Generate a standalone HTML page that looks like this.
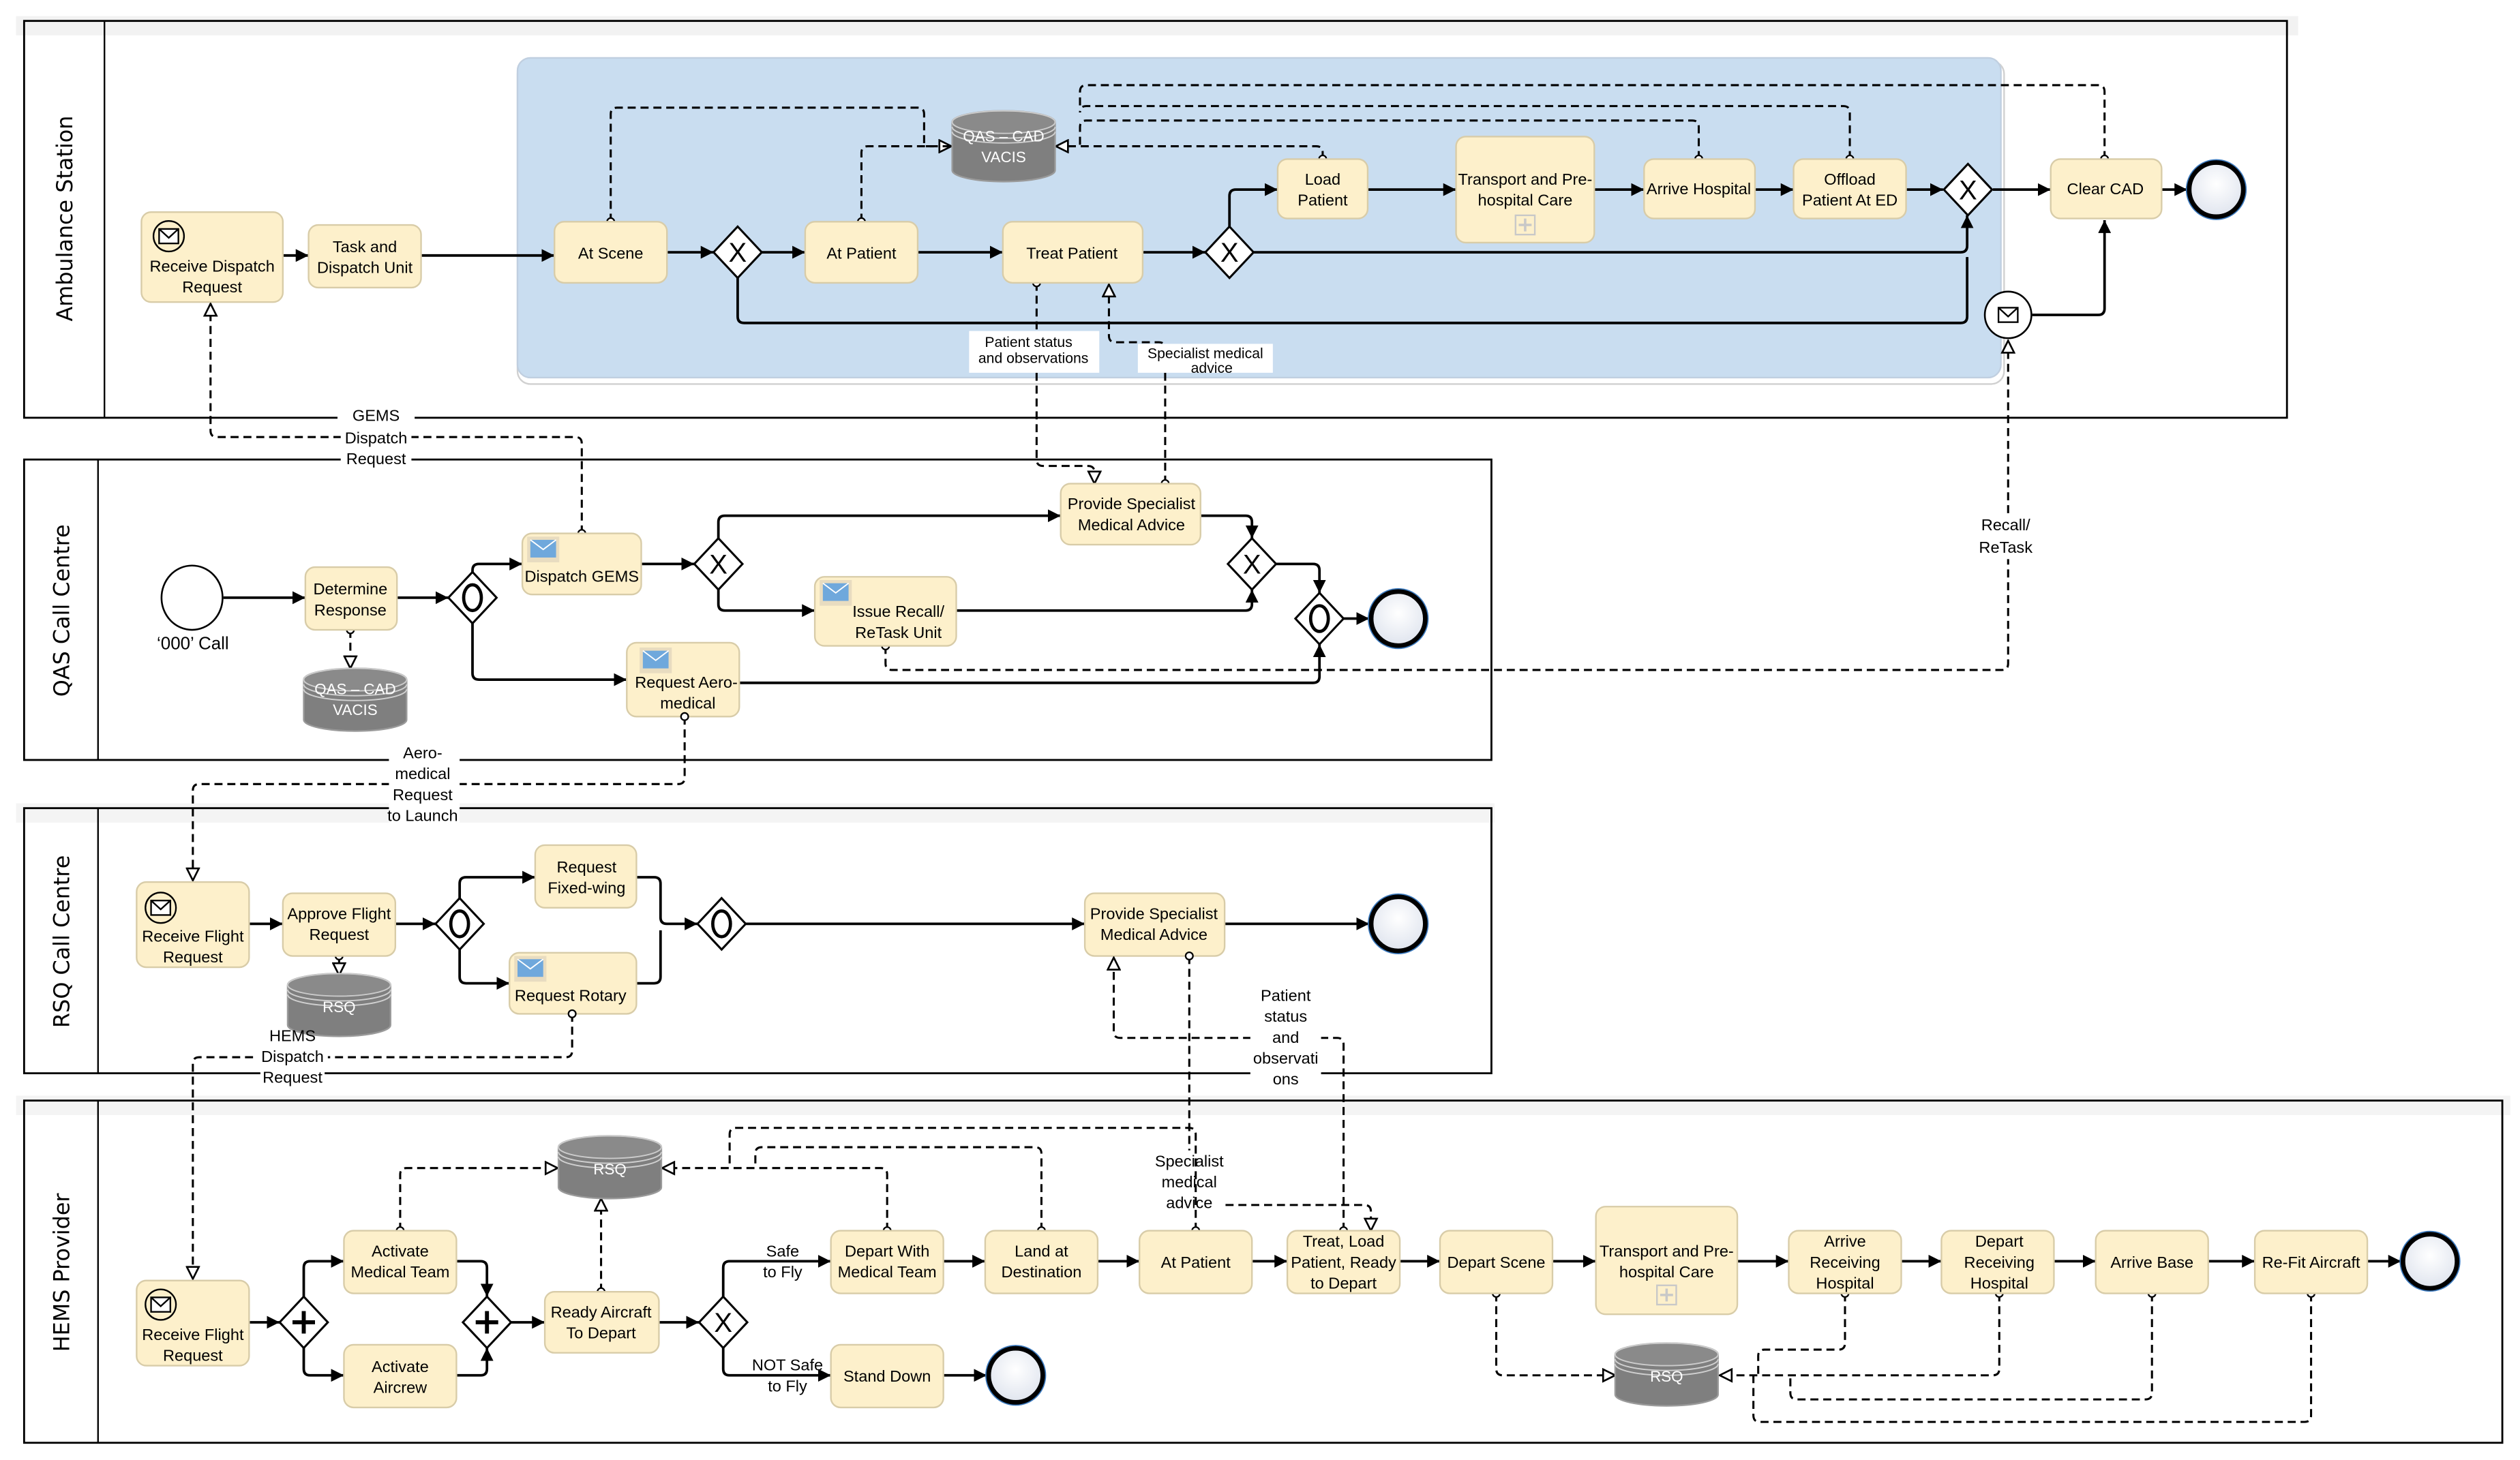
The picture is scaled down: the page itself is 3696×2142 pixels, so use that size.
<!DOCTYPE html>
<html><head><meta charset="utf-8">
<style>
html,body{margin:0;padding:0;background:#fff;}
svg{display:block;}
.t{font-family:"Liberation Sans Narrow","Liberation Sans",sans-serif;font-size:10px;text-anchor:middle;fill:#000;}
.lane{font-family:"DejaVu Sans","Liberation Sans",sans-serif;font-size:13.5px;text-anchor:middle;fill:#000;}
.task{fill:#fdf0cb;stroke:#d8cca8;stroke-width:1;}
.f{fill:none;stroke:#000;stroke-width:1.6;}
.d{fill:none;stroke:#000;stroke-width:1.3;stroke-dasharray:5,3;}
.gw{fill:#fff;stroke:#000;stroke-width:1.3;}
.db{fill:#7f7f7f;stroke:#9a9a9a;stroke-width:1;}
.dbl{fill:none;stroke:#d0d0d0;stroke-width:0.8;}
.dbt{font-family:"Liberation Sans Narrow","Liberation Sans",sans-serif;font-size:9.5px;text-anchor:middle;fill:#fff;}
</style></head>
<body>
<svg width="3696" height="2142" viewBox="0 0 1568 908.7" xmlns="http://www.w3.org/2000/svg">
<defs>
<marker id="a" viewBox="0 0 10 10" refX="10" refY="5" markerWidth="8" markerHeight="8" orient="auto" markerUnits="userSpaceOnUse"><path d="M0,0 L10,5 L0,10 z" fill="#000"/></marker>
<marker id="o" viewBox="0 0 12 12" refX="11" refY="6" markerWidth="9" markerHeight="9" orient="auto" markerUnits="userSpaceOnUse"><path d="M1,1 L11,6 L1,11 z" fill="#fff" stroke="#000" stroke-width="1.5"/></marker>
<marker id="c" viewBox="0 0 10 10" refX="5" refY="5" markerWidth="6" markerHeight="6" orient="auto" markerUnits="userSpaceOnUse"><circle cx="5" cy="5" r="3.8" fill="#fff" stroke="#000" stroke-width="1.6"/></marker>
<radialGradient id="eg" cx="50%" cy="40%" r="60%"><stop offset="0" stop-color="#ffffff"/><stop offset="1" stop-color="#dfe4ee"/></radialGradient>
<g id="env"><rect x="-6" y="-4.5" width="12" height="9" fill="#fff" stroke="#000" stroke-width="1"/><path d="M-6,-4.5 L0,1 L6,-4.5" fill="none" stroke="#000" stroke-width="1"/></g>
<g id="benv"><rect x="0" y="0" width="20" height="16" fill="#e8dcc0"/><rect x="2" y="2" width="16" height="11" fill="#6fa8dc"/><path d="M2,2 L10,8 L18,2" fill="none" stroke="#fff" stroke-width="0.8"/></g>
</defs>

<!-- gray bands -->
<rect x="10" y="10" width="1420" height="12" fill="#f2f2f2"/>
<rect x="10" y="500" width="920" height="12" fill="#f4f4f4"/>
<rect x="10" y="682" width="1552" height="12" fill="#f4f4f4"/>

<!-- pools -->
<rect x="15" y="13" width="1408" height="247" fill="none" stroke="#000" stroke-width="1.2"/>
<line x1="65" y1="13" x2="65" y2="260" stroke="#000" stroke-width="1"/>
<text class="lane" transform="translate(45,136) rotate(-90)">Ambulance Station</text>

<rect x="15" y="286" width="913" height="187" fill="none" stroke="#000" stroke-width="1.2"/>
<line x1="61" y1="286" x2="61" y2="473" stroke="#000" stroke-width="1"/>
<text class="lane" transform="translate(43,380) rotate(-90)">QAS Call Centre</text>

<rect x="15" y="503" width="913" height="165" fill="none" stroke="#000" stroke-width="1.2"/>
<line x1="61" y1="503" x2="61" y2="668" stroke="#000" stroke-width="1"/>
<text class="lane" transform="translate(43,586) rotate(-90)">RSQ Call Centre</text>

<rect x="15" y="685" width="1542" height="213" fill="none" stroke="#000" stroke-width="1.2"/>
<line x1="61" y1="685" x2="61" y2="898" stroke="#000" stroke-width="1"/>
<text class="lane" transform="translate(43,792) rotate(-90)">HEMS Provider</text>

<!-- subprocess -->
<rect x="322" y="38" width="925" height="201" rx="8" fill="#fff" stroke="#d0d0d0"/>
<rect x="322" y="36" width="923" height="199" rx="8" fill="#c9ddf0" stroke="#c0cfe0"/>

<!-- ===== Ambulance flows ===== -->
<line class="f" x1="176" y1="159" x2="192" y2="159" marker-end="url(#a)"/>
<line class="f" x1="262" y1="159" x2="345" y2="159" marker-end="url(#a)"/>
<line class="f" x1="415" y1="157" x2="444" y2="157" marker-end="url(#a)"/>
<line class="f" x1="474" y1="157" x2="501" y2="157" marker-end="url(#a)"/>
<line class="f" x1="571" y1="157" x2="624" y2="157" marker-end="url(#a)"/>
<line class="f" x1="711" y1="157" x2="750" y2="157" marker-end="url(#a)"/>
<path class="f" d="M765,141 V122 Q765,118 769,118 H795" marker-end="url(#a)"/>
<path class="f" d="M780,157 H1220 Q1224,157 1224,153 V134" marker-end="url(#a)"/>
<path class="f" d="M459,173 V197 Q459,201 463,201 H1220 Q1224,201 1224,197 V160"/>
<line class="f" x1="851" y1="118" x2="906" y2="118" marker-end="url(#a)"/>
<line class="f" x1="992" y1="118" x2="1023" y2="118" marker-end="url(#a)"/>
<line class="f" x1="1092" y1="118" x2="1116" y2="118" marker-end="url(#a)"/>
<line class="f" x1="1186" y1="118" x2="1209" y2="118" marker-end="url(#a)"/>
<line class="f" x1="1240" y1="118" x2="1276" y2="118" marker-end="url(#a)"/>
<line class="f" x1="1345" y1="118" x2="1361" y2="118" marker-end="url(#a)"/>
<path class="f" d="M1264.5,196 H1305.5 Q1309.5,196 1309.5,192 V137" marker-end="url(#a)"/>

<!-- Ambulance data associations -->
<path class="d" d="M380,138 V71 Q380,67 384,67 H571 Q575,67 575,71 V91 H592" marker-start="url(#c)" marker-end="url(#o)"/>
<path class="d" d="M536,138 V95 Q536,91 540,91 H592" marker-start="url(#c)"/>
<path class="d" d="M823,99 V95 Q823,91 819,91 H657" marker-start="url(#c)" marker-end="url(#o)"/>
<path class="d" d="M1057,99 V79 Q1057,75 1053,75 H676 Q672,75 672,79 V91"  marker-start="url(#c)"/>
<path class="d" d="M1151,99 V70 Q1151,66 1147,66 H676 Q672,66 672,70" marker-start="url(#c)"/>
<path class="d" d="M1309.5,99 V57 Q1309.5,53 1305.5,53 H676 Q672,53 672,57 V66" marker-start="url(#c)"/>

<!-- database QAS-CAD top -->
<g>
<path class="db" d="M592.5,76 V106 A32,7 0 0 0 656.5,106 V76 A32,7 0 0 0 592.5,76 Z"/>
<ellipse cx="624.5" cy="76" rx="32" ry="7" fill="#8a8a8a" stroke="#ccc" stroke-width="0.8"/>
<path class="dbl" d="M592.5,79 A32,7 0 0 0 656.5,79 M592.5,82 A32,7 0 0 0 656.5,82"/>
<text class="dbt" x="624.5" y="88">QAS – CAD</text><text class="dbt" x="624.5" y="101">VACIS</text>
</g>

<!-- Patient status / specialist advice between ambulance and QAS -->
<path class="d" d="M645,176 V286 Q645,290 649,290 H677 Q681,290 681,294 V301" marker-start="url(#c)" marker-end="url(#o)"/>
<path class="d" d="M725,301 V217 Q725,213 721,213 H694 Q690,213 690,209 V177" marker-start="url(#c)" marker-end="url(#o)"/>
<rect x="603" y="206" width="81" height="26" fill="#fff"/>
<text class="t" x="640" y="216" style="font-size:9px">Patient  status</text>
<text class="t" x="643" y="226" style="font-size:9px">and observations</text>
<rect x="708" y="214" width="84" height="18" fill="#fff"/>
<text class="t" x="750" y="223" style="font-size:9px">Specialist medical</text>
<text class="t" x="754" y="232" style="font-size:9px">advice</text>

<!-- Ambulance tasks -->
<rect class="task" x="88" y="132" width="88" height="56" rx="6"/>
<circle cx="105" cy="147" r="9.5" fill="none" stroke="#000" stroke-width="1"/><use href="#env" x="105" y="147"/>
<text class="t" x="132" y="169">Receive Dispatch</text><text class="t" x="132" y="182">Request</text>
<rect class="task" x="192" y="140" width="70" height="39" rx="6"/>
<text class="t" x="227" y="157">Task and</text><text class="t" x="227" y="170">Dispatch Unit</text>
<rect class="task" x="345" y="138" width="70" height="38" rx="6"/><text class="t" x="380" y="161">At Scene</text>
<rect class="task" x="501" y="138" width="70" height="38" rx="6"/><text class="t" x="536" y="161">At Patient</text>
<rect class="task" x="624" y="138" width="87" height="38" rx="6"/><text class="t" x="667" y="161">Treat Patient</text>
<rect class="task" x="795" y="99" width="56" height="37" rx="6"/><text class="t" x="823" y="115">Load</text><text class="t" x="823" y="128">Patient</text>
<rect class="task" x="906" y="85" width="86" height="66" rx="6"/><text class="t" x="949" y="115">Transport and Pre-</text><text class="t" x="949" y="128">hospital Care</text>
<rect x="943" y="134" width="12" height="12" fill="none" stroke="#c8c8c8"/><path d="M949,136 V144 M945,140 H953" stroke="#c8c8c8" stroke-width="1.5"/>
<rect class="task" x="1023" y="99" width="69" height="37" rx="6"/><text class="t" x="1057" y="121">Arrive Hospital</text>
<rect class="task" x="1116" y="99" width="70" height="37" rx="6"/><text class="t" x="1151" y="115">Offload</text><text class="t" x="1151" y="128">Patient At ED</text>
<rect class="task" x="1276" y="99" width="69" height="37" rx="6"/><text class="t" x="1310" y="121">Clear CAD</text>

<!-- Ambulance gateways/events -->
<polygon class="gw" points="459,141 474,157 459,173 444,157"/><text x="459" y="163" style="font:17px 'Liberation Sans Narrow','Liberation Sans',sans-serif;text-anchor:middle">X</text>
<polygon class="gw" points="765,141 780,157 765,173 750,157"/><text x="765" y="163" style="font:17px 'Liberation Sans Narrow','Liberation Sans',sans-serif;text-anchor:middle">X</text>
<polygon class="gw" points="1224.5,102 1239.5,118 1224.5,134 1209.5,118"/><text x="1224.5" y="124" style="font:17px 'Liberation Sans Narrow','Liberation Sans',sans-serif;text-anchor:middle">X</text>
<circle cx="1379" cy="118" r="17" fill="url(#eg)" stroke="#000" stroke-width="3.2"/><circle cx="1379" cy="118" r="18.6" fill="none" stroke="#3d7bbf" stroke-width="0.7"/>
<circle cx="1249.5" cy="196" r="14.5" fill="#fff" stroke="#000" stroke-width="1.1"/><use href="#env" x="1249.5" y="196"/>

<!-- GEMS dispatch request -->
<path class="d" d="M362,332 V276 Q362,272 358,272 H135 Q131,272 131,268 V189" marker-start="url(#c)" marker-end="url(#o)"/>
<rect x="210" y="253" width="48" height="10" fill="#fff"/>
<rect x="212" y="266" width="44" height="12" fill="#fff"/>
<rect x="212" y="280" width="44" height="12" fill="#fff"/>
<text class="t" x="234" y="262">GEMS</text><text class="t" x="234" y="276">Dispatch</text><text class="t" x="234" y="289">Request</text>

<!-- ===== QAS ===== -->
<line class="f" x1="139" y1="372" x2="190" y2="372" marker-end="url(#a)"/>
<line class="f" x1="247" y1="372" x2="279" y2="372" marker-end="url(#a)"/>
<path class="f" d="M294,356 V355 Q294,351 298,351 H325" marker-end="url(#a)"/>
<path class="f" d="M294,388 V419 Q294,423 298,423 H390" marker-end="url(#a)"/>
<line class="f" x1="399" y1="351" x2="432" y2="351" marker-end="url(#a)"/>
<path class="f" d="M447,335 V325 Q447,321 451,321 H660" marker-end="url(#a)"/>
<path class="f" d="M447,367 V376 Q447,380 451,380 H507" marker-end="url(#a)"/>
<path class="f" d="M747,321 H775 Q779,321 779,325 V335" marker-end="url(#a)"/>
<path class="f" d="M595,380 H775 Q779,380 779,376 V367" marker-end="url(#a)"/>
<path class="f" d="M794,351 H817 Q821,351 821,355 V369" marker-end="url(#a)"/>
<path class="f" d="M460,425 H817 Q821,425 821,421 V401" marker-end="url(#a)"/>
<line class="f" x1="836" y1="385" x2="852" y2="385" marker-end="url(#a)"/>
<path class="d" d="M218,392 V416" marker-start="url(#c)" marker-end="url(#o)"/>
<path class="d" d="M551,402 V413 Q551,417 555,417 H1245.5 Q1249.5,417 1249.5,413 V212" marker-start="url(#c)" marker-end="url(#o)"/>
<rect x="1232" y="320" width="34" height="28" fill="#fff"/>
<text class="t" x="1248" y="330">Recall/</text><text class="t" x="1248" y="344">ReTask</text>

<ellipse cx="119.5" cy="372" rx="19" ry="20" fill="#fff" stroke="#000" stroke-width="1.1"/>
<text class="t" x="120" y="404" style="font-size:11px">‘000’ Call</text>
<rect class="task" x="190" y="353" width="57" height="39" rx="6"/><text class="t" x="218" y="370">Determine</text><text class="t" x="218" y="383">Response</text>
<polygon class="gw" points="294,356 309,372 294,388 279,372"/><ellipse cx="294" cy="372" rx="5.5" ry="8" fill="none" stroke="#000" stroke-width="2"/>
<rect class="task" x="325" y="332" width="74" height="38" rx="6"/><use href="#benv" x="328" y="334"/><text class="t" x="362" y="362">Dispatch GEMS</text>
<polygon class="gw" points="447,335 462,351 447,367 432,351"/><text x="447" y="357" style="font:17px 'Liberation Sans Narrow','Liberation Sans',sans-serif;text-anchor:middle">X</text>
<rect class="task" x="660" y="301" width="87" height="38" rx="6"/><text class="t" x="704" y="317">Provide Specialist</text><text class="t" x="704" y="330">Medical Advice</text>
<rect class="task" x="507" y="359" width="88" height="43" rx="6"/><use href="#benv" x="510" y="361"/><text class="t" x="559" y="384">Issue Recall/</text><text class="t" x="559" y="397">ReTask Unit</text>
<rect class="task" x="390" y="400" width="70" height="46" rx="6"/><use href="#benv" x="398" y="403"/><text class="t" x="427" y="428">Request Aero-</text><text class="t" x="428" y="441">medical</text>
<polygon class="gw" points="779,335 794,351 779,367 764,351"/><text x="779" y="357" style="font:17px 'Liberation Sans Narrow','Liberation Sans',sans-serif;text-anchor:middle">X</text>
<polygon class="gw" points="821,369 836,385 821,401 806,385"/><ellipse cx="821" cy="385" rx="5.5" ry="8" fill="none" stroke="#000" stroke-width="2"/>
<circle cx="870" cy="385" r="17" fill="url(#eg)" stroke="#000" stroke-width="3.2"/><circle cx="870" cy="385" r="18.6" fill="none" stroke="#3d7bbf" stroke-width="0.7"/>
<g>
<path class="db" d="M189,423 V448 A32,7 0 0 0 253,448 V423 A32,7 0 0 0 189,423 Z"/>
<ellipse cx="221" cy="423" rx="32" ry="7" fill="#8a8a8a" stroke="#ccc" stroke-width="0.8"/>
<path class="dbl" d="M189,426 A32,7 0 0 0 253,426 M189,429 A32,7 0 0 0 253,429"/>
<text class="dbt" x="221" y="432">QAS – CAD</text><text class="dbt" x="221" y="445">VACIS</text>
</g>

<!-- Aero-medical request -->
<path class="d" d="M426,446 V484 Q426,488 422,488 H124 Q120,488 120,492 V548" marker-start="url(#c)" marker-end="url(#o)"/>
<rect x="242" y="462" width="44" height="52" fill="#fff"/>
<text class="t" x="263" y="472">Aero-</text><text class="t" x="263" y="485">medical</text><text class="t" x="263" y="498">Request</text><text class="t" x="263" y="511">to Launch</text>

<!-- ===== RSQ ===== -->
<line class="f" x1="155" y1="575" x2="176" y2="575" marker-end="url(#a)"/>
<line class="f" x1="246" y1="575" x2="271" y2="575" marker-end="url(#a)"/>
<path class="f" d="M286,559 V550 Q286,546 290,546 H333" marker-end="url(#a)"/>
<path class="f" d="M286,591 V608 Q286,612 290,612 H317" marker-end="url(#a)"/>
<path class="f" d="M396,546 H407 Q411,546 411,550 V571 Q411,575 415,575 H434" marker-end="url(#a)"/>
<path class="f" d="M396,612 H407 Q411,612 411,608 V579"/>
<line class="f" x1="464" y1="575" x2="675" y2="575" marker-end="url(#a)"/>
<line class="f" x1="762" y1="575" x2="852" y2="575" marker-end="url(#a)"/>
<path class="d" d="M211,595 V607" marker-start="url(#c)" marker-end="url(#o)"/>

<rect class="task" x="85" y="549" width="70" height="53" rx="6"/>
<circle cx="100" cy="565" r="9.5" fill="none" stroke="#000" stroke-width="1"/><use href="#env" x="100" y="565"/>
<text class="t" x="120" y="586">Receive Flight</text><text class="t" x="120" y="599">Request</text>
<rect class="task" x="176" y="556" width="70" height="39" rx="6"/><text class="t" x="211" y="572">Approve Flight</text><text class="t" x="211" y="585">Request</text>
<polygon class="gw" points="286,559 301,575 286,591 271,575"/><ellipse cx="286" cy="575" rx="5.5" ry="8" fill="none" stroke="#000" stroke-width="2"/>
<rect class="task" x="333" y="526" width="63" height="39" rx="6"/><text class="t" x="365" y="543">Request</text><text class="t" x="365" y="556">Fixed-wing</text>
<rect class="task" x="317" y="593" width="79" height="38" rx="6"/><use href="#benv" x="320" y="595"/><text class="t" x="355" y="623">Request Rotary</text>
<polygon class="gw" points="449,559 464,575 449,591 434,575"/><ellipse cx="449" cy="575" rx="5.5" ry="8" fill="none" stroke="#000" stroke-width="2"/>
<rect class="task" x="675" y="556" width="87" height="39" rx="6"/><text class="t" x="718" y="572">Provide Specialist</text><text class="t" x="718" y="585">Medical Advice</text>
<circle cx="870" cy="575" r="17" fill="url(#eg)" stroke="#000" stroke-width="3.2"/><circle cx="870" cy="575" r="18.6" fill="none" stroke="#3d7bbf" stroke-width="0.7"/>
<g>
<path class="db" d="M179,613 V638 A32,7 0 0 0 243,638 V613 A32,7 0 0 0 179,613 Z"/>
<ellipse cx="211" cy="613" rx="32" ry="7" fill="#8a8a8a" stroke="#ccc" stroke-width="0.8"/>
<path class="dbl" d="M179,616 A32,7 0 0 0 243,616 M179,619 A32,7 0 0 0 243,619"/>
<text class="dbt" x="211" y="630">RSQ</text>
</g>

<!-- HEMS dispatch request -->
<path class="d" d="M356,631 V654 Q356,658 352,658 H124 Q120,658 120,662 V796" marker-start="url(#c)" marker-end="url(#o)"/>
<rect x="160" y="652" width="44" height="12" fill="#fff"/>
<rect x="162" y="665" width="40" height="11" fill="#fff"/>
<text class="t" x="182" y="648">HEMS</text><text class="t" x="182" y="661">Dispatch</text><text class="t" x="182" y="674">Request</text>

<!-- Specialist medical advice RSQ -> HEMS Treat -->
<path class="d" d="M740,595 V746 Q740,750 744,750 H849 Q853,750 853,754 V766" marker-start="url(#c)" marker-end="url(#o)"/>
<rect x="718" y="716" width="44" height="40" fill="#fff"/>
<text class="t" x="740" y="726">Specialist</text><text class="t" x="740" y="739">medical</text><text class="t" x="740" y="752">advice</text>
<!-- Patient status HEMS Treat -> RSQ Provide -->
<path class="d" d="M836,766 V650 Q836,646 832,646 H697 Q693,646 693,642 V596" marker-start="url(#c)" marker-end="url(#o)"/>
<rect x="778" y="613" width="44" height="65" fill="#fff"/>
<text class="t" x="800" y="623">Patient</text><text class="t" x="800" y="636">status</text><text class="t" x="800" y="649">and</text><text class="t" x="800" y="662">observati</text><text class="t" x="800" y="675">ons</text>

<!-- ===== HEMS ===== -->
<line class="f" x1="155" y1="823" x2="174" y2="823" marker-end="url(#a)"/>
<path class="f" d="M189,807 V789 Q189,785 193,785 H214" marker-end="url(#a)"/>
<path class="f" d="M189,839 V852 Q189,856 193,856 H214" marker-end="url(#a)"/>
<path class="f" d="M284,785 H299 Q303,785 303,789 V807" marker-end="url(#a)"/>
<path class="f" d="M284,856 H299 Q303,856 303,852 V839" marker-end="url(#a)"/>
<line class="f" x1="318" y1="823" x2="339" y2="823" marker-end="url(#a)"/>
<line class="f" x1="410" y1="823" x2="435" y2="823" marker-end="url(#a)"/>
<path class="f" d="M450,807 V789 Q450,785 454,785 H517" marker-end="url(#a)"/>
<path class="f" d="M450,839 V852 Q450,856 454,856 H517" marker-end="url(#a)"/>
<line class="f" x1="587" y1="856" x2="614" y2="856" marker-end="url(#a)"/>
<line class="f" x1="587" y1="785" x2="613" y2="785" marker-end="url(#a)"/>
<line class="f" x1="683" y1="785" x2="709" y2="785" marker-end="url(#a)"/>
<line class="f" x1="779" y1="785" x2="801" y2="785" marker-end="url(#a)"/>
<line class="f" x1="871" y1="785" x2="896" y2="785" marker-end="url(#a)"/>
<line class="f" x1="966" y1="785" x2="993" y2="785" marker-end="url(#a)"/>
<line class="f" x1="1081" y1="785" x2="1113" y2="785" marker-end="url(#a)"/>
<line class="f" x1="1183" y1="785" x2="1208" y2="785" marker-end="url(#a)"/>
<line class="f" x1="1278" y1="785" x2="1304" y2="785" marker-end="url(#a)"/>
<line class="f" x1="1374" y1="785" x2="1403" y2="785" marker-end="url(#a)"/>
<line class="f" x1="1473" y1="785" x2="1494" y2="785" marker-end="url(#a)"/>

<!-- HEMS associations upper DB -->
<path class="d" d="M249,766 V731 Q249,727 253,727 H347" marker-start="url(#c)" marker-end="url(#o)"/>
<path class="d" d="M374,804 V746" marker-start="url(#c)" marker-end="url(#o)"/>
<path class="d" d="M552,766 V731 Q552,727 548,727 H412" marker-start="url(#c)" marker-end="url(#o)"/>
<path class="d" d="M648,766 V718 Q648,714 644,714 H474 Q470,714 470,718 V727" marker-start="url(#c)"/>
<path class="d" d="M744,766 V706 Q744,702 740,702 H458 Q454,702 454,706 V727" marker-start="url(#c)"/>
<!-- lower DB -->
<path class="d" d="M931,805 V852 Q931,856 935,856 H1005" marker-start="url(#c)" marker-end="url(#o)"/>
<path class="d" d="M1148,805 V836 Q1148,840 1144,840 H1098 Q1094,840 1094,844 V856" marker-start="url(#c)"/>
<path class="d" d="M1244,805 V852 Q1244,856 1240,856 H1070" marker-start="url(#c)" marker-end="url(#o)"/>
<path class="d" d="M1339,805 V867 Q1339,871 1335,871 H1118 Q1114,871 1114,867 V856" marker-start="url(#c)"/>
<path class="d" d="M1438,805 V881 Q1438,885 1434,885 H1095 Q1091,885 1091,881 V856" marker-start="url(#c)"/>

<!-- HEMS shapes -->
<rect class="task" x="85" y="797" width="70" height="53" rx="6"/>
<circle cx="100" cy="812" r="9.5" fill="none" stroke="#000" stroke-width="1"/><use href="#env" x="100" y="812"/>
<text class="t" x="120" y="834">Receive Flight</text><text class="t" x="120" y="847">Request</text>
<polygon class="gw" points="189,807 204,823 189,839 174,823"/><path d="M189,816 V830 M182,823 H196" stroke="#000" stroke-width="2.5"/>
<rect class="task" x="214" y="766" width="70" height="39" rx="6"/><text class="t" x="249" y="782">Activate</text><text class="t" x="249" y="795">Medical Team</text>
<rect class="task" x="214" y="837" width="70" height="39" rx="6"/><text class="t" x="249" y="854">Activate</text><text class="t" x="249" y="867">Aircrew</text>
<polygon class="gw" points="303,807 318,823 303,839 288,823"/><path d="M303,816 V830 M296,823 H310" stroke="#000" stroke-width="2.5"/>
<rect class="task" x="339" y="804" width="71" height="38" rx="6"/><text class="t" x="374" y="820">Ready Aircraft</text><text class="t" x="374" y="833">To Depart</text>
<polygon class="gw" points="450,807 465,823 450,839 435,823"/><text x="450" y="829" style="font:17px 'Liberation Sans Narrow','Liberation Sans',sans-serif;text-anchor:middle">X</text>
<text class="t" x="487" y="782">Safe</text><text class="t" x="487" y="795">to Fly</text>
<text class="t" x="490" y="853">NOT Safe</text><text class="t" x="490" y="866">to Fly</text>
<rect class="task" x="517" y="766" width="70" height="39" rx="6"/><text class="t" x="552" y="782">Depart With</text><text class="t" x="552" y="795">Medical Team</text>
<rect class="task" x="517" y="837" width="70" height="39" rx="6"/><text class="t" x="552" y="860">Stand Down</text>
<circle cx="632" cy="856" r="17" fill="url(#eg)" stroke="#000" stroke-width="3.2"/><circle cx="632" cy="856" r="18.6" fill="none" stroke="#3d7bbf" stroke-width="0.7"/>
<rect class="task" x="613" y="766" width="70" height="39" rx="6"/><text class="t" x="648" y="782">Land at</text><text class="t" x="648" y="795">Destination</text>
<rect class="task" x="709" y="766" width="70" height="39" rx="6"/><text class="t" x="744" y="789">At Patient</text>
<rect class="task" x="801" y="766" width="70" height="39" rx="6"/><text class="t" x="836" y="776">Treat, Load</text><text class="t" x="836" y="789">Patient, Ready</text><text class="t" x="836" y="802">to Depart</text>
<rect class="task" x="896" y="766" width="70" height="39" rx="6"/><text class="t" x="931" y="789">Depart Scene</text>
<rect class="task" x="993" y="751" width="88" height="67" rx="6"/><text class="t" x="1037" y="782">Transport and Pre-</text><text class="t" x="1037" y="795">hospital Care</text>
<rect x="1031" y="800" width="12" height="12" fill="none" stroke="#c8c8c8"/><path d="M1037,802 V810 M1033,806 H1041" stroke="#c8c8c8" stroke-width="1.5"/>
<rect class="task" x="1113" y="766" width="70" height="39" rx="6"/><text class="t" x="1148" y="776">Arrive</text><text class="t" x="1148" y="789">Receiving</text><text class="t" x="1148" y="802">Hospital</text>
<rect class="task" x="1208" y="766" width="70" height="39" rx="6"/><text class="t" x="1244" y="776">Depart</text><text class="t" x="1244" y="789">Receiving</text><text class="t" x="1244" y="802">Hospital</text>
<rect class="task" x="1304" y="766" width="70" height="39" rx="6"/><text class="t" x="1339" y="789">Arrive Base</text>
<rect class="task" x="1403" y="766" width="70" height="39" rx="6"/><text class="t" x="1438" y="789">Re-Fit Aircraft</text>
<circle cx="1512" cy="785" r="17" fill="url(#eg)" stroke="#000" stroke-width="3.2"/><circle cx="1512" cy="785" r="18.6" fill="none" stroke="#3d7bbf" stroke-width="0.7"/>
<!-- redraw circles on dashed starts over boxes -->
<g>
<path class="db" d="M347.5,714 V739 A32,7 0 0 0 411.5,739 V714 A32,7 0 0 0 347.5,714 Z"/>
<ellipse cx="379.5" cy="714" rx="32" ry="7" fill="#8a8a8a" stroke="#ccc" stroke-width="0.8"/>
<path class="dbl" d="M347.5,717 A32,7 0 0 0 411.5,717 M347.5,720 A32,7 0 0 0 411.5,720"/>
<text class="dbt" x="379.5" y="731">RSQ</text>
</g>
<g>
<path class="db" d="M1005,843 V868 A32,7 0 0 0 1069,868 V843 A32,7 0 0 0 1005,843 Z"/>
<ellipse cx="1037" cy="843" rx="32" ry="7" fill="#8a8a8a" stroke="#ccc" stroke-width="0.8"/>
<path class="dbl" d="M1005,846 A32,7 0 0 0 1069,846 M1005,849 A32,7 0 0 0 1069,849"/>
<text class="dbt" x="1037" y="860">RSQ</text>
</g>
</svg>
</body></html>
